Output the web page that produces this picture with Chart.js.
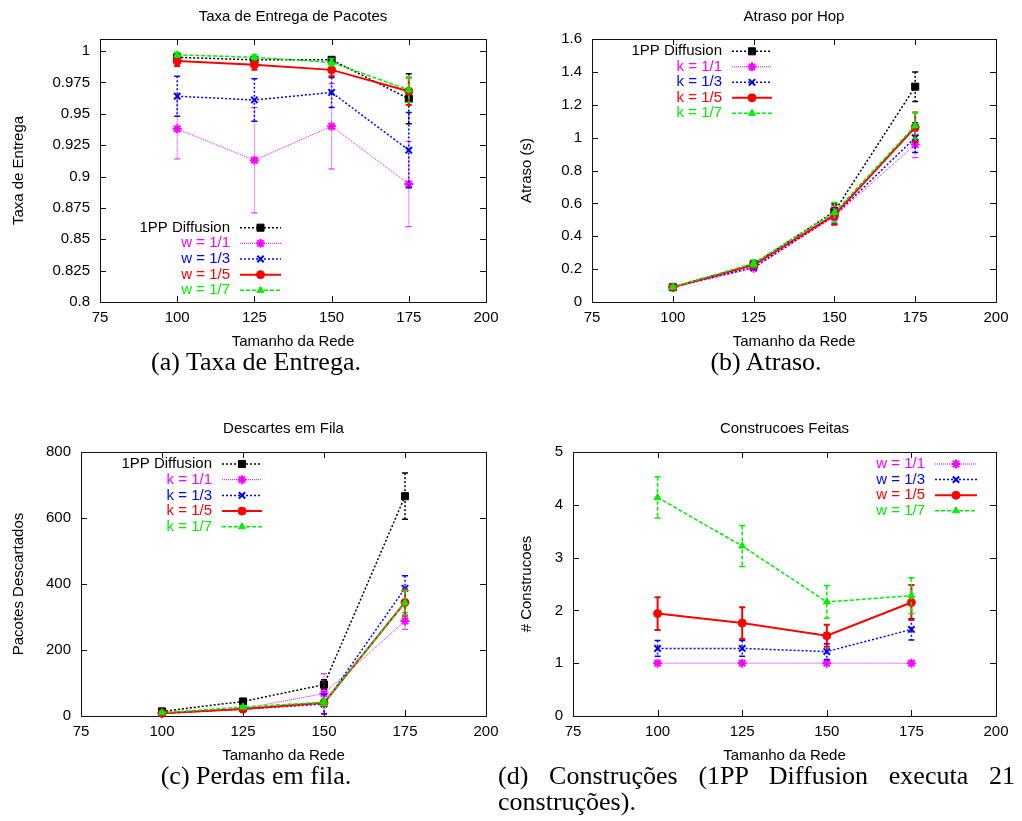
<!DOCTYPE html>
<html>
<head>
<meta charset="utf-8">
<script src="https://cdn.jsdelivr.net/npm/chart.js@4.4.0/dist/chart.umd.min.js"></script>
<style>
  html, body { margin: 0; padding: 0; background: #fff; }
  #wrap { position: relative; width: 1022px; height: 821px; overflow: hidden; background: #fff; }
  canvas { position: absolute; }
  .cap { position: absolute; font-family: "Liberation Serif", "Times New Roman", serif; font-size: 26px; line-height: 26px; color: #000; white-space: nowrap; }
</style>
</head>
<body>
<div id="wrap">
  <canvas id="chartA" width="500" height="356" style="left:0;top:0"></canvas>
  <canvas id="chartB" width="512" height="356" style="left:510px;top:0"></canvas>
  <canvas id="chartC" width="500" height="360" style="left:0;top:410px"></canvas>
  <canvas id="chartD" width="512" height="360" style="left:510px;top:410px"></canvas>
  <div class="cap" style="left:0;width:512px;top:349px;text-align:center">(a) Taxa de Entrega.</div>
  <div class="cap" style="left:510px;width:512px;top:349px;text-align:center">(b) Atraso.</div>
  <div class="cap" style="left:0;width:512px;top:763px;text-align:center">(c) Perdas em fila.</div>
  <div class="cap" style="left:498px;width:517px;top:763px;text-align:justify;text-align-last:justify">(d) Construções (1PP Diffusion executa 21</div>
  <div class="cap" style="left:498px;top:789px">construções).</div>
</div>
<script>
// ---------------- data ----------------
const sizes = [100, 125, 150, 175];
const xTicks = [75, 100, 125, 150, 175, 200];

// (a) Taxa de Entrega de Pacotes
const deliveryTicks = [0.8, 0.825, 0.85, 0.875, 0.9, 0.925, 0.95, 0.975, 1];
const delivery1PP = [0.995, 0.993, 0.993, 0.962];
const delivery1PPErr = [0.002, 0.002, 0.002, 0.02];
const deliveryW1 = [0.938, 0.913, 0.940, 0.894];
const deliveryW1Err = [0.024, 0.042, 0.034, 0.034];
const deliveryW3 = [0.964, 0.961, 0.967, 0.921];
const deliveryW3Err = [0.016, 0.017, 0.012, 0.03];
const deliveryW5 = [0.992, 0.989, 0.985, 0.968];
const deliveryW5Err = [0.004, 0.004, 0.005, 0.011];
const deliveryW7 = [0.997, 0.995, 0.991, 0.969];
const deliveryW7Err = [0.002, 0.002, 0.003, 0.01];

// (b) Atraso por Hop
const delayTicks = [0, 0.2, 0.4, 0.6, 0.8, 1, 1.2, 1.4, 1.6];
const delay1PP = [0.09, 0.23, 0.55, 1.31];
const delay1PPErr = [0.005, 0.01, 0.05, 0.09];
const delayK1 = [0.09, 0.205, 0.52, 0.958];
const delayK1Err = [0.005, 0.01, 0.05, 0.08];
const delayK3 = [0.09, 0.21, 0.525, 1.0];
const delayK3Err = [0.005, 0.01, 0.05, 0.09];
const delayK5 = [0.09, 0.225, 0.53, 1.063];
const delayK5Err = [0.005, 0.015, 0.06, 0.09];
const delayK7 = [0.09, 0.235, 0.545, 1.073];
const delayK7Err = [0.005, 0.02, 0.06, 0.08];

// (c) Descartes em Fila
const dropTicks = [0, 200, 400, 600, 800];
const drop1PP = [14, 44, 95, 666];
const drop1PPErr = [3, 5, 15, 70];
const dropK1 = [8, 22, 68, 288];
const dropK1Err = [2, 4, 60, 25];
const dropK3 = [8, 21, 36, 387];
const dropK3Err = [2, 4, 30, 38];
const dropK5 = [8, 21, 40, 344];
const dropK5Err = [2, 4, 10, 40];
const dropK7 = [10, 27, 42, 343];
const dropK7Err = [2, 4, 10, 37];

// (d) Construcoes Feitas
const buildTicks = [0, 1, 2, 3, 4, 5];
const buildW1 = [1, 1, 1, 1];
const buildW1Err = [0, 0, 0, 0];
const buildW3 = [1.28, 1.28, 1.22, 1.64];
const buildW3Err = [0.15, 0.15, 0.15, 0.2];
const buildW5 = [1.94, 1.76, 1.52, 2.15];
const buildW5Err = [0.31, 0.3, 0.21, 0.33];
const buildW7 = [4.14, 3.22, 2.16, 2.28];
const buildW7Err = [0.39, 0.39, 0.31, 0.34];

// ---------------- styles ----------------
const FONT = '"Liberation Sans", Arial, Helvetica, sans-serif';
Chart.defaults.font.family = FONT;
Chart.defaults.font.size = 15;
Chart.defaults.color = '#000';

const STYLES = {
  pp: { color: '#000000', dash: [2, 2], width: 1.5, point: 'rect', r: 5, bw: 1 },
  s1: { color: '#ff00ff', dash: [1, 1], width: 1, point: 'star', r: 4.5, bw: 2 },
  s3: { color: '#0000ff', dash: [2, 2], width: 1.5, point: 'crossRot', r: 4.5, bw: 2 },
  s5: { color: '#ff0000', dash: [], width: 2, point: 'circle', r: 4, bw: 1 },
  s7: { color: '#00ee00', dash: [4, 2], width: 1.5, point: 'triangle', r: 4, bw: 1 }
};

function series(label, values, errs, key, order) {
  const s = STYLES[key];
  return {
    label: label,
    data: values.map((v, i) => ({ x: sizes[i], y: v })),
    errors: errs,
    borderColor: s.color,
    backgroundColor: s.color,
    borderWidth: s.width,
    borderDash: s.dash,
    pointStyle: s.point,
    pointRadius: s.r,
    pointBorderWidth: s.bw,
    pointBackgroundColor: s.color,
    pointBorderColor: s.color,
    fill: false,
    tension: 0,
    order: order,
    clip: false
  };
}

// ---------------- plugins ----------------
const frame = {
  id: 'frame',
  beforeDatasetsDraw(chart) {
    const { ctx, chartArea: a, scales: { x, y } } = chart;
    ctx.save();
    ctx.strokeStyle = '#111';
    ctx.lineWidth = 1;
    ctx.setLineDash([]);
    ctx.strokeRect(Math.round(a.left) + 0.5, Math.round(a.top) + 0.5, Math.round(a.right - a.left), Math.round(a.bottom - a.top));
    ctx.beginPath();
    x.ticks.forEach(t => {
      const px = Math.round(x.getPixelForValue(t.value)) + 0.5;
      ctx.moveTo(px, a.bottom); ctx.lineTo(px, a.bottom - 6);
      ctx.moveTo(px, a.top); ctx.lineTo(px, a.top + 6);
    });
    y.ticks.forEach(t => {
      const py = Math.round(y.getPixelForValue(t.value)) + 0.5;
      ctx.moveTo(a.left, py); ctx.lineTo(a.left + 6, py);
      ctx.moveTo(a.right, py); ctx.lineTo(a.right - 6, py);
    });
    ctx.stroke();
    ctx.restore();
  }
};

const errorBars = {
  id: 'errorBars',
  beforeDatasetDraw(chart, args) {
    const ds = chart.data.datasets[args.index];
    if (!ds.errors) return;
    const ys = chart.scales.y;
    const ctx = chart.ctx;
    ctx.save();
    ctx.strokeStyle = ds.borderColor;
    ctx.lineWidth = ds.borderWidth;
    args.meta.data.forEach((pt, i) => {
      const v = ds.data[i].y, e = ds.errors[i];
      const x = pt.x;
      const y1 = ys.getPixelForValue(v + e), y2 = ys.getPixelForValue(v - e);
      ctx.setLineDash(ds.borderDash || []);
      ctx.beginPath();
      ctx.moveTo(x, y1); ctx.lineTo(x, y2);
      ctx.stroke();
      ctx.setLineDash([]);
      ctx.beginPath();
      ctx.moveTo(x - 3, y1); ctx.lineTo(x + 3, y1);
      ctx.moveTo(x - 3, y2); ctx.lineTo(x + 3, y2);
      ctx.stroke();
    });
    ctx.restore();
  }
};

const gpLegend = {
  id: 'gpLegend',
  afterDatasetsDraw(chart, args, opts) {
    if (!opts || opts.textRight === undefined) return;
    const ctx = chart.ctx;
    chart.data.datasets.forEach((ds, i) => {
      const y = opts.top + i * opts.dy;
      ctx.save();
      ctx.font = '15px ' + FONT;
      ctx.fillStyle = ds.borderColor;
      ctx.textAlign = 'right';
      ctx.textBaseline = 'middle';
      ctx.fillText(ds.label, opts.textRight, y);
      ctx.strokeStyle = ds.borderColor;
      ctx.lineWidth = ds.borderWidth;
      ctx.setLineDash(ds.borderDash || []);
      ctx.beginPath();
      ctx.moveTo(opts.lineLeft, y); ctx.lineTo(opts.lineRight, y);
      ctx.stroke();
      ctx.setLineDash([]);
      ctx.fillStyle = ds.pointBackgroundColor;
      ctx.strokeStyle = ds.pointBorderColor;
      ctx.lineWidth = ds.pointBorderWidth;
      Chart.helpers.drawPoint(ctx, { pointStyle: ds.pointStyle, radius: ds.pointRadius, borderWidth: ds.pointBorderWidth, rotation: 0 }, (opts.lineLeft + opts.lineRight) / 2, y);
      ctx.restore();
    });
  }
};

function fmt(v) { return String(Math.round(v * 1000) / 1000); }

function makeChart(id, cfg) {
  return new Chart(document.getElementById(id), {
    type: 'line',
    data: { datasets: cfg.datasets },
    options: {
      responsive: false,
      animation: false,
      events: [],
      layout: { padding: { top: 0, right: cfg.padRight, bottom: 0, left: 0 } },
      plugins: {
        legend: { display: false },
        tooltip: { enabled: false },
        title: {
          display: true, text: cfg.title, fullSize: false, color: '#000',
          font: { size: 15, weight: 'normal' },
          padding: { top: cfg.titleTop, bottom: cfg.titleBottom }
        },
        gpLegend: cfg.legend
      },
      scales: {
        x: {
          type: 'linear', min: 75, max: 200,
          afterBuildTicks: s => { s.ticks = xTicks.map(v => ({ value: v })); },
          afterFit: s => { s.height = cfg.xH; s.paddingLeft = 0; s.paddingRight = 0; },
          grid: { display: false, drawTicks: false },
          border: { display: false },
          ticks: { padding: 7, maxRotation: 0, autoSkip: false, color: '#000', font: { size: 15 } },
          title: { display: true, text: 'Tamanho da Rede', color: '#000', font: { size: 15 }, padding: { top: 0, bottom: 5 } }
        },
        y: {
          type: 'linear', min: cfg.yMin, max: cfg.yMax,
          afterBuildTicks: s => { s.ticks = cfg.yTicks.map(v => ({ value: v })); },
          afterFit: s => { s.width = cfg.yW; s.paddingTop = 0; s.paddingBottom = 0; },
          grid: { display: false, drawTicks: false },
          border: { display: false },
          ticks: { padding: 10, color: '#000', font: { size: 15 }, callback: v => fmt(v) },
          title: { display: true, text: cfg.yTitle, color: '#000', font: { size: 15 }, padding: { top: cfg.yTitlePad, bottom: 0 } }
        }
      }
    },
    plugins: [frame, errorBars, gpLegend]
  });
}

makeChart('chartA', {
  title: 'Taxa de Entrega de Pacotes', yTitle: 'Taxa de Entrega',
  yMin: 0.8, yMax: 1.0096, yTicks: deliveryTicks,
  yW: 100, xH: 54, padRight: 14, titleTop: 8, titleBottom: 13, yTitlePad: 10,
  legend: { textRight: 230, lineLeft: 240, lineRight: 281, top: 227.7, dy: 15.65 },
  datasets: [
    series('1PP Diffusion', delivery1PP, delivery1PPErr, 'pp', 5),
    series('w = 1/1', deliveryW1, deliveryW1Err, 's1', 4),
    series('w = 1/3', deliveryW3, deliveryW3Err, 's3', 3),
    series('w = 1/5', deliveryW5, deliveryW5Err, 's5', 2),
    series('w = 1/7', deliveryW7, deliveryW7Err, 's7', 1)
  ]
});

makeChart('chartB', {
  title: 'Atraso por Hop', yTitle: 'Atraso (s)',
  yMin: 0, yMax: 1.6, yTicks: delayTicks,
  yW: 82, xH: 54, padRight: 26, titleTop: 8, titleBottom: 13, yTitlePad: 8,
  legend: { textRight: 212, lineLeft: 222, lineRight: 262, top: 51.3, dy: 15.5 },
  datasets: [
    series('1PP Diffusion', delay1PP, delay1PPErr, 'pp', 5),
    series('k = 1/1', delayK1, delayK1Err, 's1', 4),
    series('k = 1/3', delayK3, delayK3Err, 's3', 3),
    series('k = 1/5', delayK5, delayK5Err, 's5', 2),
    series('k = 1/7', delayK7, delayK7Err, 's7', 1)
  ]
});

makeChart('chartC', {
  title: 'Descartes em Fila', yTitle: 'Pacotes Descartados',
  yMin: 0, yMax: 800, yTicks: dropTicks,
  yW: 81, xH: 54, padRight: 14, titleTop: 10, titleBottom: 14, yTitlePad: 10,
  legend: { textRight: 212, lineLeft: 222, lineRight: 262, top: 54, dy: 15.7 },
  datasets: [
    series('1PP Diffusion', drop1PP, drop1PPErr, 'pp', 5),
    series('k = 1/1', dropK1, dropK1Err, 's1', 4),
    series('k = 1/3', dropK3, dropK3Err, 's3', 3),
    series('k = 1/5', dropK5, dropK5Err, 's5', 2),
    series('k = 1/7', dropK7, dropK7Err, 's7', 1)
  ]
});

makeChart('chartD', {
  title: 'Construcoes Feitas', yTitle: '# Construcoes',
  yMin: 0, yMax: 5, yTicks: buildTicks,
  yW: 63, xH: 54, padRight: 26, titleTop: 10, titleBottom: 14, yTitlePad: 8,
  legend: { textRight: 415, lineLeft: 425, lineRight: 467, top: 54, dy: 15.6 },
  datasets: [
    series('w = 1/1', buildW1, buildW1Err, 's1', 4),
    series('w = 1/3', buildW3, buildW3Err, 's3', 3),
    series('w = 1/5', buildW5, buildW5Err, 's5', 2),
    series('w = 1/7', buildW7, buildW7Err, 's7', 1)
  ]
});
</script>
</body>
</html>
